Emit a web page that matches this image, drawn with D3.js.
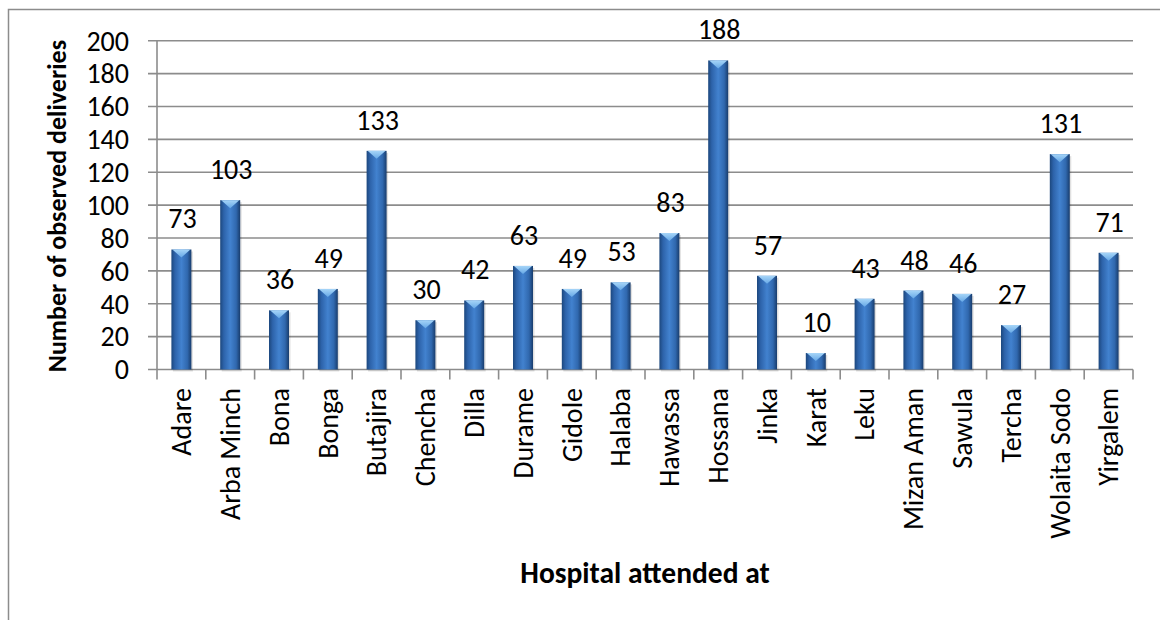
<!DOCTYPE html>
<html><head><meta charset="utf-8">
<script src="https://cdn.jsdelivr.net/npm/d3@7"></script>
<style>body{margin:0;background:#fff}svg{display:block}text{font-family:Carlito,Lato,"Liberation Sans",sans-serif;fill:#000}</style>
</head><body><svg id="c" width="1160" height="620"></svg>
<script>
const categories = ["Adare","Arba Minch","Bona","Bonga","Butajira","Chencha","Dilla","Durame","Gidole","Halaba","Hawassa","Hossana","Jinka","Karat","Leku","Mizan Aman","Sawula","Tercha","Wolaita Sodo","Yirgalem"];
const values = [73,103,36,49,133,30,42,63,49,53,83,188,57,10,43,48,46,27,131,71];
const yTicks = [0,20,40,60,80,100,120,140,160,180,200];
const yTitle = "Number of observed deliveries";
const xTitle = "Hospital attended at";

const svg = d3.select("#c");
const L = 157, R = 1133, T = 40.7, B = 369.5;
const x = d3.scaleBand().domain(categories).range([L, R]);
const y = d3.scaleLinear().domain([0, 200]).range([B, T]);
const FS = "28px";

const defs = svg.append("defs");
const g1 = defs.append("linearGradient").attr("id","bar").attr("x1","0").attr("x2","1").attr("y1","0").attr("y2","0");
[[0,"#1c477d"],[0.18,"#2d63aa"],[0.5,"#4282cf"],[0.8,"#3068ae"],[1,"#183c6c"]].forEach(s=>g1.append("stop").attr("offset",s[0]).attr("stop-color",s[1]));
const g2 = defs.append("linearGradient").attr("id","cap").attr("x1","0").attr("x2","0").attr("y1","0").attr("y2","1");
[[0,"#a6d5f8"],[1,"#66a8e6"]].forEach(s=>g2.append("stop").attr("offset",s[0]).attr("stop-color",s[1]));

// outer border
svg.append("rect").attr("x",8.5).attr("y",9.5).attr("width",1300).attr("height",800).attr("fill","none").attr("stroke","#8c8c8c").attr("stroke-width",1.5);

// gridlines
svg.append("g").selectAll("line").data(yTicks).join("line")
  .attr("x1",148).attr("x2",R).attr("y1",d=>y(d)).attr("y2",d=>y(d))
  .attr("stroke","#8c8c8c").attr("stroke-width",1.6);

// y axis line
svg.append("line").attr("x1",L).attr("x2",L).attr("y1",T).attr("y2",B).attr("stroke","#8c8c8c").attr("stroke-width",1.6);
// y tick labels
svg.append("g").selectAll("text").data(yTicks).join("text")
  .attr("x",129).attr("y",d=>y(d)).attr("dy","0.35em").attr("text-anchor","end")
  .style("font-size",FS).text(d=>d);

// x category ticks
const tickPos = categories.map(c=>x(c)).concat([R]);
svg.append("g").selectAll("line").data(tickPos).join("line")
  .attr("x1",d=>d).attr("x2",d=>d).attr("y1",B).attr("y2",B+10)
  .attr("stroke","#8c8c8c").attr("stroke-width",1.6);

// bars
const bw = 20;
const bars = svg.append("g").selectAll("g").data(categories.map((c,i)=>({c,v:values[i]}))).join("g");
bars.append("rect").attr("x",d=>x(d.c)+x.bandwidth()/2-bw/2+1.5).attr("y",d=>y(d.v)+2)
  .attr("width",bw).attr("height",d=>B-y(d.v)).attr("fill","#000").attr("opacity",0.12);
bars.append("rect").attr("x",d=>x(d.c)+x.bandwidth()/2-bw/2).attr("y",d=>y(d.v))
  .attr("width",bw).attr("height",d=>B-y(d.v)).attr("fill","url(#bar)");
bars.append("path").attr("d",d=>{
  const cx = x(d.c)+x.bandwidth()/2, t = y(d.v), h = Math.min(8, (B-t)/2);
  return `M${cx-bw/2+1},${t}L${cx+bw/2-1},${t}L${cx},${t+h}Z`;
}).attr("fill","url(#cap)");
// data labels
bars.append("text").attr("x",d=>x(d.c)+x.bandwidth()/2+1).attr("y",d=>y(d.v)-21)
  .attr("text-anchor","middle").style("font-size",FS).text(d=>d.v);

// category labels
svg.append("g").selectAll("text").data(categories).join("text")
  .attr("transform",d=>`translate(${x(d)+x.bandwidth()/2},388) rotate(-90)`)
  .attr("text-anchor","end").attr("dy","0.35em").style("font-size",FS).text(d=>d);

// axis titles
svg.append("text").attr("transform",`translate(66,${(T+B)/2+1}) rotate(-90)`)
  .attr("text-anchor","middle").style("font-size","26px").style("font-weight","bold").text(yTitle);
svg.append("text").attr("x",645).attr("y",583).attr("text-anchor","middle")
  .style("font-size","29.5px").style("font-weight","bold").text(xTitle);
</script></body></html>
